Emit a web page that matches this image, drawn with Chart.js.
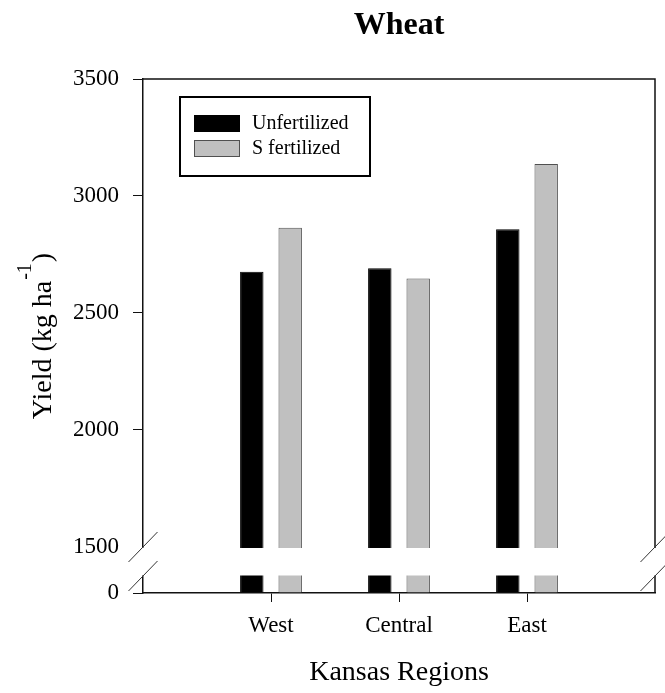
<!DOCTYPE html>
<html>
<head>
<meta charset="utf-8">
<script src="https://cdn.jsdelivr.net/npm/chart.js@4.4.1/dist/chart.umd.min.js"></script>
<style>
  html, body { margin: 0; padding: 0; background: #fff; }
  canvas { display: block; }
</style>
</head>
<body>
<canvas id="chart" width="665" height="693"></canvas>
<script>
// ---- data ----
const chartTitle = 'Wheat';
const categories = ['West', 'Central', 'East'];
const seriesNames = ['Unfertilized', 'S fertilized'];
const unfertilized = [2676, 2691, 2858];
const sFertilized = [2864, 2647, 3137];
const yTickValues = [0, 1500, 2000, 2500, 3000, 3500];
const axisBreak = 1500;
const xAxisTitle = 'Kansas Regions';
const yAxisTitleMain = 'Yield (kg ha';
const yAxisTitleSup = '-1';
const yAxisTitleEnd = ')';

const seriesColors = ['#000000', '#c0c0c0'];
const seriesBorders = ['#000000', '#505050'];
const FONT = "'Liberation Serif', 'Times New Roman', serif";

// Linear axis with a break: 0..axisBreak is squeezed into a short strip at the bottom.
class BrokenLinearScale extends Chart.LinearScale {
  static id = 'brokenLinear';
  static defaults = Chart.LinearScale.defaults;
  buildTicks() {
    return yTickValues.map(v => ({ value: v }));
  }
  _decimal(v) {
    const f = 0.0895;
    if (v <= axisBreak) return (v - this.min) / (axisBreak - this.min) * f;
    return f + (v - axisBreak) / (this.max - axisBreak) * (1 - f);
  }
  getPixelForValue(v) {
    if (v === null || v === undefined || isNaN(v)) return NaN;
    return this.getPixelForDecimal(this._decimal(v));
  }
  getValueForPixel(p) {
    const f = 0.0895;
    const d = this.getDecimalForPixel(p);
    if (d <= f) return this.min + d / f * (axisBreak - this.min);
    return axisBreak + (d - f) / (1 - f) * (this.max - axisBreak);
  }
}
Chart.register(BrokenLinearScale);

const labels = ['', ...categories, ''];

const decorations = {
  id: 'decorations',
  afterDraw(chart) {
    const { ctx, chartArea: a, scales: { y } } = chart;
    ctx.save();

    // top and right frame
    ctx.strokeStyle = '#111';
    ctx.lineWidth = 1.5;
    ctx.beginPath();
    ctx.moveTo(a.left, a.top);
    ctx.lineTo(a.right, a.top);
    ctx.lineTo(a.right, a.bottom);
    ctx.stroke();

    // axis break band
    const yb = y.getPixelForValue(axisBreak);
    const gapBottom = yb + 29;
    ctx.fillStyle = '#fff';
    ctx.fillRect(a.left - 14, yb + 1, a.right - a.left + 30, gapBottom - yb - 1.5);

    // break slashes
    ctx.strokeStyle = '#333';
    ctx.lineWidth = 1;
    [a.left, a.right].forEach(cx => {
      [yb, gapBottom].forEach(cy => {
        ctx.beginPath();
        ctx.moveTo(cx - 14.5, cy + 15);
        ctx.lineTo(cx + 14.5, cy - 15);
        ctx.stroke();
      });
    });

    // chart title
    ctx.fillStyle = '#000';
    ctx.font = 'bold 32px ' + FONT;
    ctx.textAlign = 'center';
    ctx.textBaseline = 'alphabetic';
    ctx.fillText(chartTitle, (a.left + a.right) / 2, 34);

    // y axis title with superscript
    const mainFont = '28px ' + FONT;
    const supFont = '20px ' + FONT;
    ctx.font = mainFont;
    const w1 = ctx.measureText(yAxisTitleMain).width;
    const w3 = ctx.measureText(yAxisTitleEnd).width;
    ctx.font = supFont;
    const w2 = ctx.measureText(yAxisTitleSup).width;
    const total = w1 + w2 + w3 + 2;
    ctx.translate(51, (a.top + a.bottom) / 2);
    ctx.rotate(-Math.PI / 2);
    ctx.textAlign = 'left';
    let x = -total / 2;
    ctx.font = mainFont;
    ctx.fillText(yAxisTitleMain, x, 0);
    x += w1 + 1;
    ctx.font = supFont;
    ctx.fillText(yAxisTitleSup, x, -20);
    x += w2 + 1;
    ctx.font = mainFont;
    ctx.fillText(yAxisTitleEnd, x, 0);
    ctx.restore();

    // legend box
    ctx.save();
    const lx = 180, ly = 97, lw = 190, lh = 79;
    ctx.strokeStyle = '#000';
    ctx.lineWidth = 2;
    ctx.strokeRect(lx, ly, lw, lh);
    ctx.font = '20px ' + FONT;
    ctx.textAlign = 'left';
    ctx.textBaseline = 'middle';
    chart.data.datasets.forEach((ds, i) => {
      const sy = 115 + i * 25;
      ctx.fillStyle = ds.backgroundColor;
      ctx.fillRect(194, sy, 46, 17);
      ctx.strokeStyle = ds.borderColor;
      ctx.lineWidth = 1;
      ctx.strokeRect(194.5, sy + 0.5, 45, 16);
      ctx.fillStyle = '#000';
      ctx.fillText(ds.label, 252, sy + 9);
    });
    ctx.restore();
  }
};

const seriesValues = [unfertilized, sFertilized];

new Chart(document.getElementById('chart'), {
  type: 'bar',
  data: {
    labels: labels,
    datasets: seriesNames.map((name, s) => ({
      label: name,
      data: categories.map((c, i) => ({ x: c, y: seriesValues[s][i] })),
      backgroundColor: seriesColors[s],
      borderColor: seriesBorders[s],
      borderWidth: 1,
      categoryPercentage: 0.6,
      barPercentage: 0.61
    }))
  },
  options: {
    responsive: false,
    animation: false,
    devicePixelRatio: 1,
    layout: { padding: { top: 79, right: 8, left: 0, bottom: 0 } },
    plugins: {
      legend: { display: false },
      title: { display: false },
      tooltip: { enabled: false }
    },
    scales: {
      x: {
        type: 'category',
        offset: false,
        grid: {
          offset: false,
          drawOnChartArea: false,
          drawTicks: true,
          tickLength: 9,
          lineWidth: 1,
          tickColor: ctx => (ctx.index === 0 || ctx.index === labels.length - 1) ? 'rgba(0,0,0,0)' : '#111'
        },
        border: { display: true, color: '#111', width: 1.5 },
        ticks: {
          autoSkip: false,
          maxRotation: 0,
          padding: 10,
          color: '#000',
          font: { family: FONT, size: 23 }
        },
        title: {
          display: true,
          text: xAxisTitle,
          color: '#000',
          font: { family: FONT, size: 28 },
          padding: { top: 0, bottom: 4 }
        },
        afterFit: s => { s.height = 100; }
      },
      y: {
        type: 'brokenLinear',
        min: 0,
        max: 3500,
        grid: {
          drawOnChartArea: false,
          drawTicks: true,
          tickLength: 10,
          lineWidth: 1,
          tickColor: ctx => (ctx.tick && ctx.tick.value === axisBreak) ? 'rgba(0,0,0,0)' : '#111'
        },
        border: { display: true, color: '#111', width: 1.5 },
        ticks: {
          autoSkip: false,
          padding: 14,
          color: '#000',
          font: { family: FONT, size: 23 },
          callback: v => String(v)
        },
        afterFit: s => { s.width = 143; }
      }
    }
  },
  plugins: [decorations]
});
</script>
</body>
</html>
